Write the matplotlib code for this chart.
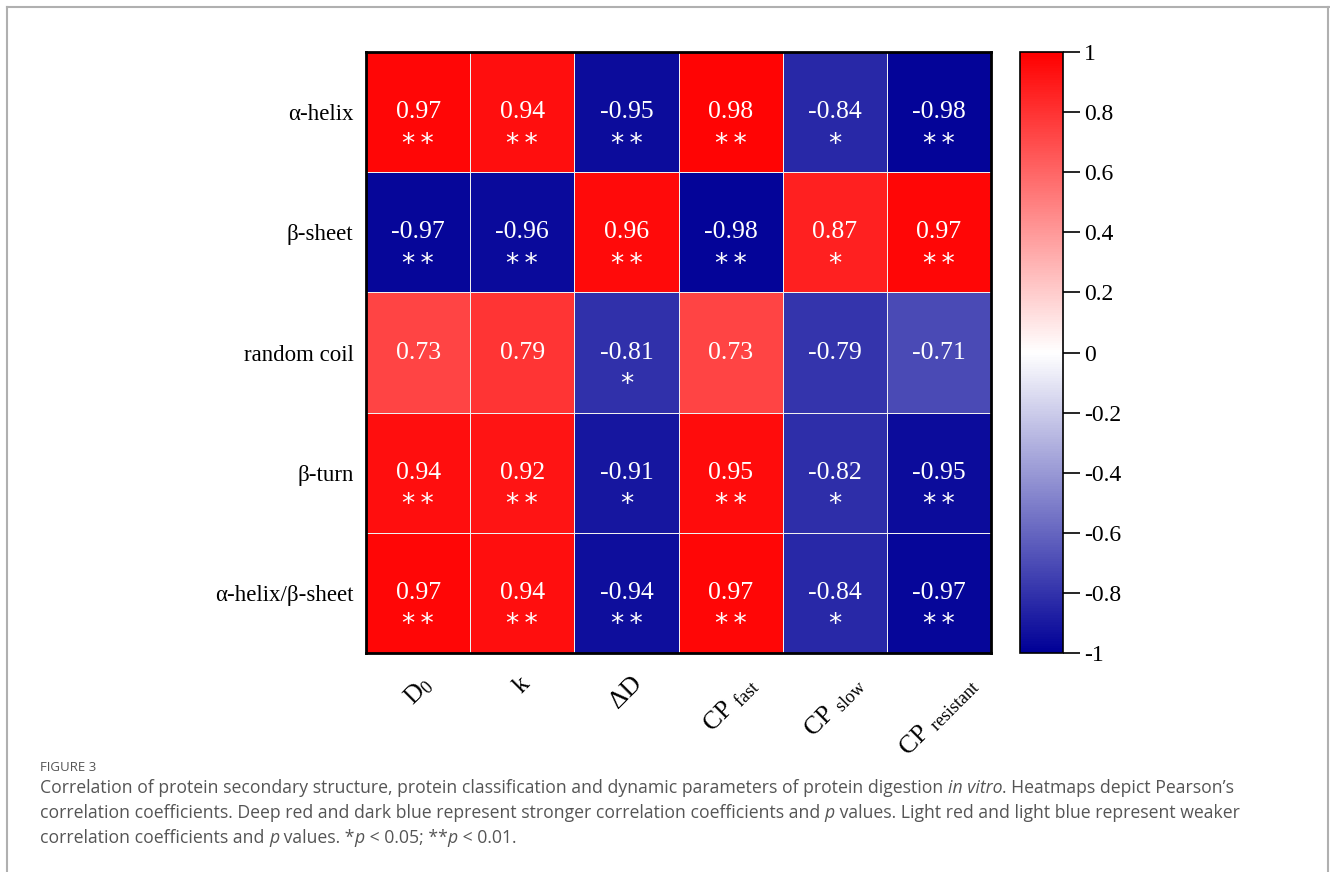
import numpy as np
import matplotlib
matplotlib.use("Agg")
import matplotlib.pyplot as plt
from matplotlib.colors import LinearSegmentedColormap
from matplotlib.lines import Line2D

plt.rcParams['font.family'] = ['Liberation Serif', 'DejaVu Serif']
plt.rcParams['mathtext.fontset'] = 'custom'
plt.rcParams['mathtext.rm'] = 'Liberation Serif'
plt.rcParams['mathtext.it'] = 'Liberation Serif:italic'

# data
row_labels = ["α-helix", "β-sheet", "random coil", "β-turn", "α-helix/β-sheet"]
col_labels = [r"D$_0$", "k", "ΔD", r"CP $_{\mathrm{fast}}$", r"CP $_{\mathrm{slow}}$",
              r"CP $_{\mathrm{resistant}}$"]
r_helix = [0.97, 0.94, -0.95, 0.98, -0.84, -0.98]
r_sheet = [-0.97, -0.96, 0.96, -0.98, 0.87, 0.97]
r_coil = [0.73, 0.79, -0.81, 0.73, -0.79, -0.71]
r_turn = [0.94, 0.92, -0.91, 0.95, -0.82, -0.95]
r_ratio = [0.97, 0.94, -0.94, 0.97, -0.84, -0.97]
sig_helix = ["**", "**", "**", "**", "*", "**"]
sig_sheet = ["**", "**", "**", "**", "*", "**"]
sig_coil = ["", "", "*", "", "", ""]
sig_turn = ["**", "**", "*", "**", "*", "**"]
sig_ratio = ["**", "**", "**", "**", "*", "**"]

values = np.array([r_helix, r_sheet, r_coil, r_turn, r_ratio])
stars = [sig_helix, sig_sheet, sig_coil, sig_turn, sig_ratio]

cmap = LinearSegmentedColormap.from_list("rb", [(0, 0, 0.59), (1, 1, 1), (1, 0, 0)])

fig = plt.figure(figsize=(13.3, 8.72), dpi=100)

# page frame
fig.add_artist(Line2D([7/1330, 7/1330], [0, 1-7/872], color="#b0b0b0", lw=1.5))
fig.add_artist(Line2D([7/1330, 1329/1330], [1-7/872, 1-7/872], color="#b0b0b0", lw=1.5))
fig.add_artist(Line2D([1328/1330, 1328/1330], [0, 1-7/872], color="#b0b0b0", lw=1.5))

ax = fig.add_axes([366/1330, 1-653/872, 625/1330, 601/872])
im = ax.pcolormesh(values, cmap=cmap, vmin=-1, vmax=1, edgecolors="#f0f0f0", linewidth=0.5)
ax.set_xlim(0, 6)
ax.set_ylim(5, 0)
for sp in ax.spines.values():
    sp.set_linewidth(2)
ax.set_xticks(np.arange(6) + 0.5)
ax.set_yticks(np.arange(5) + 0.5)
ax.set_xticklabels(col_labels, rotation=45, ha="center", va="top", fontsize=18.5)
ax.set_yticklabels(row_labels, fontsize=16.5)
ax.tick_params(axis="y", length=0, pad=9)
ax.tick_params(axis="x", length=0, pad=14)

for i in range(values.shape[0]):
    for j in range(values.shape[1]):
        ax.text(j + 0.5, i + 0.5, f"{values[i, j]:.2f}", ha="center", va="center",
                color="white", fontsize=18.5)
        if stars[i][j]:
            ax.text(j + 0.5, i + 0.5 + 0.27, "\u2009".join(stars[i][j]), ha="center",
                    va="center", color="white", fontsize=19, family="DejaVu Sans")

cax = fig.add_axes([1020/1330, 1-653/872, 43/1330, 601/872])
cb = fig.colorbar(im, cax=cax, ticks=np.arange(-1, 1.01, 0.2))
cb.ax.set_yticklabels(["-1", "-0.8", "-0.6", "-0.4", "-0.2", "0", "0.2", "0.4", "0.6", "0.8", "1"])
cb.ax.tick_params(length=12, width=1.2, labelsize=17, pad=3)
cb.outline.set_linewidth(1.2)

# caption
cap_color = "#555555"
fig.text(40/1330, 1-767/872, "FIGURE 3", fontsize=9.5, color=cap_color, family="Open Sans",
         va="center")

def draw_line(y, parts):
    fig.canvas.draw()
    r = fig.canvas.get_renderer()
    x = 40/1330
    for txt, style in parts:
        t = fig.text(x, 1-y/872, txt, fontsize=12.7, color=cap_color, family="Open Sans",
                     style=style, va="center")
        bb = t.get_window_extent(renderer=r)
        x += bb.width / 1330

draw_line(788, [("Correlation of protein secondary structure, protein classification and dynamic "
                 "parameters of protein digestion ", "normal"), ("in vitro", "italic"),
                (". Heatmaps depict Pearson\u2019s", "normal")])
draw_line(813, [("correlation coefficients. Deep red and dark blue represent stronger correlation "
                 "coefficients and ", "normal"), ("p", "italic"),
                (" values. Light red and light blue represent weaker", "normal")])
draw_line(838, [("correlation coefficients and ", "normal"), ("p", "italic"),
                (" values. *", "normal"), ("p", "italic"), (" < 0.05; **", "normal"),
                ("p", "italic"), (" < 0.01.", "normal")])

fig.savefig("out.png", dpi=100)
